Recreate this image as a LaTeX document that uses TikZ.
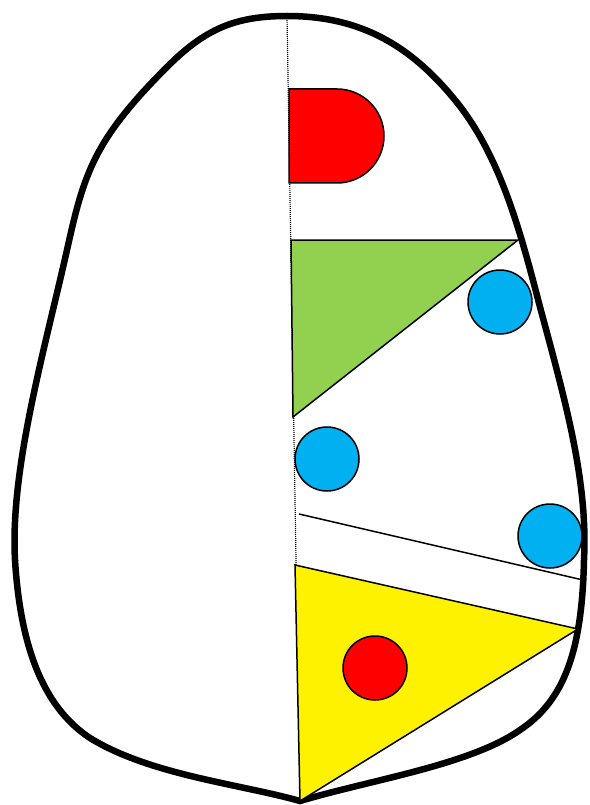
\documentclass[tikz,border=0pt]{standalone}
\usepackage{xcolor}
\usepackage{tikz}

\definecolor{leafgreen}{HTML}{92D050}
\definecolor{skyblue}{HTML}{00B0F0}

\begin{document}
\begin{tikzpicture}[x=1pt, y=-1pt,
  shell/.style={draw, line width=6.5pt},
  part/.style={draw, line width=1.5pt},
  spot/.style={circle, draw, line width=1.5pt, minimum size=64pt, inner sep=0pt}]
\useasboundingbox (0,0) rectangle (589,805);
% outline of the egg
\coordinate (top) at (287,16);
\coordinate (tip) at (300,801);
\draw[shell] (top) .. controls (360,16) and (410,45) .. (455,100)
  .. controls (500,155) and (520,230) .. (540,307)
  .. controls (565,400) and (588,480) .. (584,560)
  .. controls (582,650) and (565,700) .. (520,730)
  .. controls (470,765) and (370,780) .. (tip)
  .. controls (240,784) and (150,775) .. (90,738)
  .. controls (40,705) and (20,640) .. (15,560)
  .. controls (10,470) and (44,352) .. (67,250)
  .. controls (84,173) and (94,140) .. (167,67)
  .. controls (205,29) and (235,16) .. (top) -- cycle;
% middle line
\draw[dash pattern=on 1pt off 1pt, line width=1.2pt] (top) -- (tip);
% red half disc on top
\draw[part, fill=red] (289,89) -- (337,89) arc[start angle=-90, end angle=90, radius=47] -- (289,183) -- cycle;
% green triangle
\draw[part, fill=leafgreen] (291,240) -- (518,240) -- (293,417) -- cycle;
% slanted line
\draw[line width=1.5pt] (299,514) -- (583,580);
% yellow triangle
\draw[part, fill=yellow] (295,565) -- (578,629) -- (tip) -- cycle;
% spots
\node[spot, fill=skyblue] (b1) at (500,302) {};
\node[spot, fill=skyblue] (b2) at (327,459) {};
\node[spot, fill=skyblue] (b3) at (550,536) {};
\node[spot, fill=red] (r1) at (375,668) {};
\end{tikzpicture}
\end{document}
